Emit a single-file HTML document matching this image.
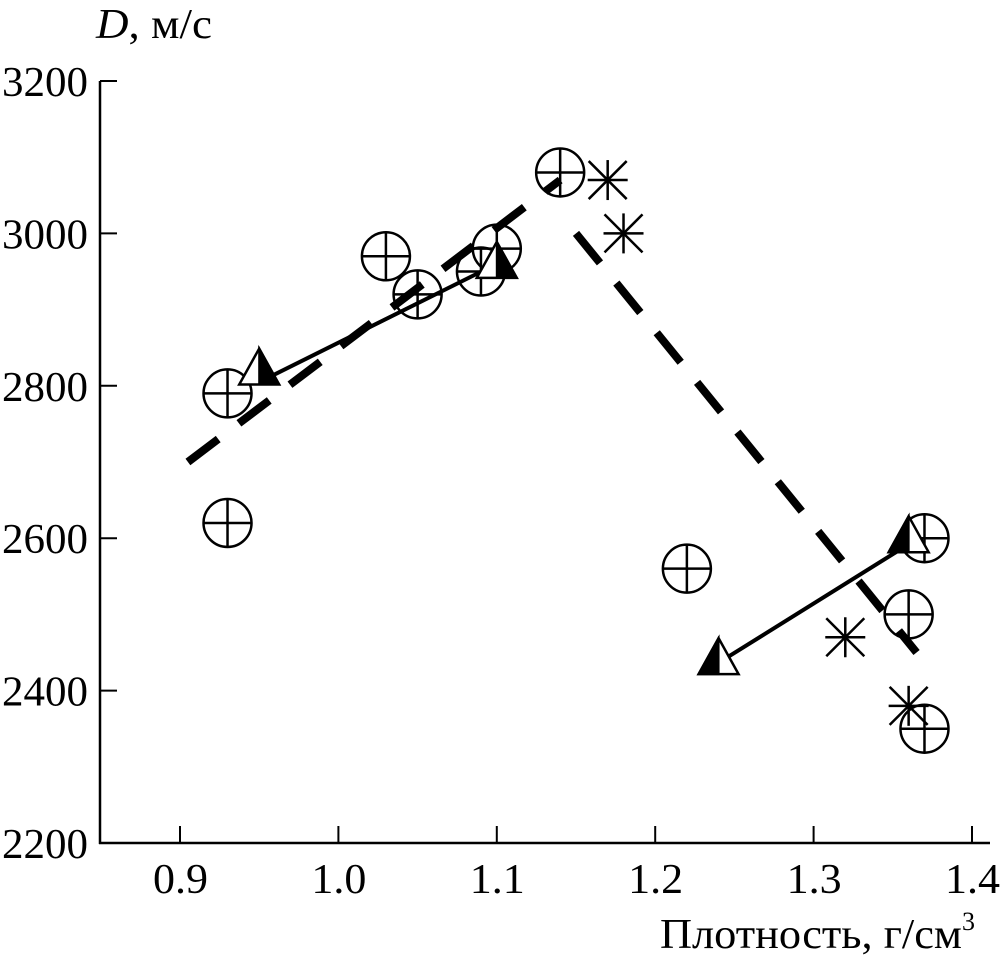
<!DOCTYPE html>
<html><head><meta charset="utf-8"><style>
html,body{margin:0;padding:0;background:#fff;}
svg{display:block;font-family:"Liberation Serif",serif;}
</style></head><body>
<svg id="chart" width="1004" height="960" viewBox="0 0 1004 960" xmlns="http://www.w3.org/2000/svg">
<g id="axes"></g>
<g id="marks"></g>
<text x="96" y="38" font-size="42" textLength="116" lengthAdjust="spacingAndGlyphs"><tspan font-style="italic">D</tspan>, м/с</text>
<text x="660" y="948" font-size="42"><tspan textLength="302" lengthAdjust="spacingAndGlyphs">Плотность, г/см</tspan><tspan font-size="26" dy="-18">3</tspan></text>
</svg>
<script>
const xTicks=[0.9,1.0,1.1,1.2,1.3,1.4];
const xTickLabels=["0.9","1.0","1.1","1.2","1.3","1.4"];
const yTicks=[2200,2400,2600,2800,3000,3200];
const circleX=[0.93,0.93,1.03,1.05,1.09,1.10,1.14,1.22,1.37,1.36,1.37];
const circleY=[2790,2620,2970,2920,2950,2980,3080,2560,2600,2500,2350];
const starX=[1.17,1.18,1.32,1.36];
const starY=[3070,3000,2470,2380];
const triX=[0.95,1.10,1.36,1.24];
const triY=[2820,2960,2600,2440];
const triFill=["right","right","left","left"];
const solid1X=[0.955,1.10], solid1Y=[2810,2960];
const solid2X=[1.235,1.36], solid2Y=[2430,2592];
const dash1X=[0.905,1.14], dash1Y=[2700,3070];
const dash2X=[1.15,1.365], dash2Y=[3000,2450];

const sx=v=>180+(v-0.9)*1584;
const sy=v=>843-(v-2200)*0.762;
const NS="http://www.w3.org/2000/svg";
function mk(tag,attrs,parent){const e=document.createElementNS(NS,tag);for(const k in attrs)e.setAttribute(k,attrs[k]);parent.appendChild(e);return e;}
const ax=document.getElementById('axes'), mg=document.getElementById('marks');

let a=mk('line',{x1:100,y1:81,x2:100,y2:844,stroke:'#000','stroke-width':2.5},ax);


a=mk('line',{x1:99,y1:843,x2:990,y2:843,stroke:'#000','stroke-width':2.5},ax);


xTicks.forEach((v,i)=>{
  const t=mk('line',{x1:sx(v),y1:843,x2:sx(v),y2:826,stroke:'#000','stroke-width':2},ax);
  
  
  const l=mk('text',{x:sx(v)-27,y:893,'font-size':42,textLength:55,lengthAdjust:'spacingAndGlyphs'},ax);
  l.textContent=xTickLabels[i];
  
  
});
yTicks.forEach(v=>{
  const t=mk('line',{x1:100,y1:sy(v),x2:117,y2:sy(v),stroke:'#000','stroke-width':2},ax);
  
  
  const l=mk('text',{x:2,y:sy(v)+15,'font-size':42,textLength:86,lengthAdjust:'spacingAndGlyphs'},ax);
  l.textContent=String(v);
  
  
});
function line(xs,ys,dash,name){
  const e=mk('line',{x1:sx(xs[0]),y1:sy(ys[0]),x2:sx(xs[1]),y2:sy(ys[1]),stroke:'#000','stroke-width':dash?8:4},mg);
  if(dash)e.setAttribute('stroke-dasharray','38 26');
  
  
}
line(dash1X,dash1Y,true,'dashed-trend-rising');
line(dash2X,dash2Y,true,'dashed-trend-falling');
line(solid1X,solid1Y,false,'solid-trend-left');
line(solid2X,solid2Y,false,'solid-trend-right');
circleX.forEach((x,i)=>{
  const g=mk('g',{},mg);
  
  
  const cx=sx(x),cy=sy(circleY[i]);
  mk('circle',{cx:cx,cy:cy,r:24,fill:'none',stroke:'#000','stroke-width':2.5},g);
  mk('line',{x1:cx-24,y1:cy,x2:cx+24,y2:cy,stroke:'#000','stroke-width':2.5},g);
  mk('line',{x1:cx,y1:cy-24,x2:cx,y2:cy+24,stroke:'#000','stroke-width':2.5},g);
});
starX.forEach((x,i)=>{
  const g=mk('g',{},mg);
  
  
  const cx=sx(x),cy=sy(starY[i]);
  mk('line',{x1:cx-20,y1:cy,x2:cx+20,y2:cy,stroke:'#000','stroke-width':2.5},g);
  mk('line',{x1:cx,y1:cy-20,x2:cx,y2:cy+20,stroke:'#000','stroke-width':2.5},g);
  mk('line',{x1:cx-19,y1:cy-19,x2:cx+19,y2:cy+19,stroke:'#000','stroke-width':2.5},g);
  mk('line',{x1:cx-19,y1:cy+19,x2:cx+19,y2:cy-19,stroke:'#000','stroke-width':2.5},g);
});
triX.forEach((x,i)=>{
  const g=mk('g',{},mg);
  
  
  const cx=sx(x),cy=sy(triY[i]);
  mk('polygon',{points:`${cx},${cy-22} ${cx-20},${cy+14} ${cx+20},${cy+14}`,fill:'#fff',stroke:'#000','stroke-width':2.5},g);
  const pts=triFill[i]==='right'?`${cx},${cy-22} ${cx},${cy+14} ${cx+20},${cy+14}`:`${cx},${cy-22} ${cx},${cy+14} ${cx-20},${cy+14}`;
  mk('polygon',{points:pts,fill:'#000',stroke:'#000','stroke-width':2},g);
});
</script>
</body></html>
